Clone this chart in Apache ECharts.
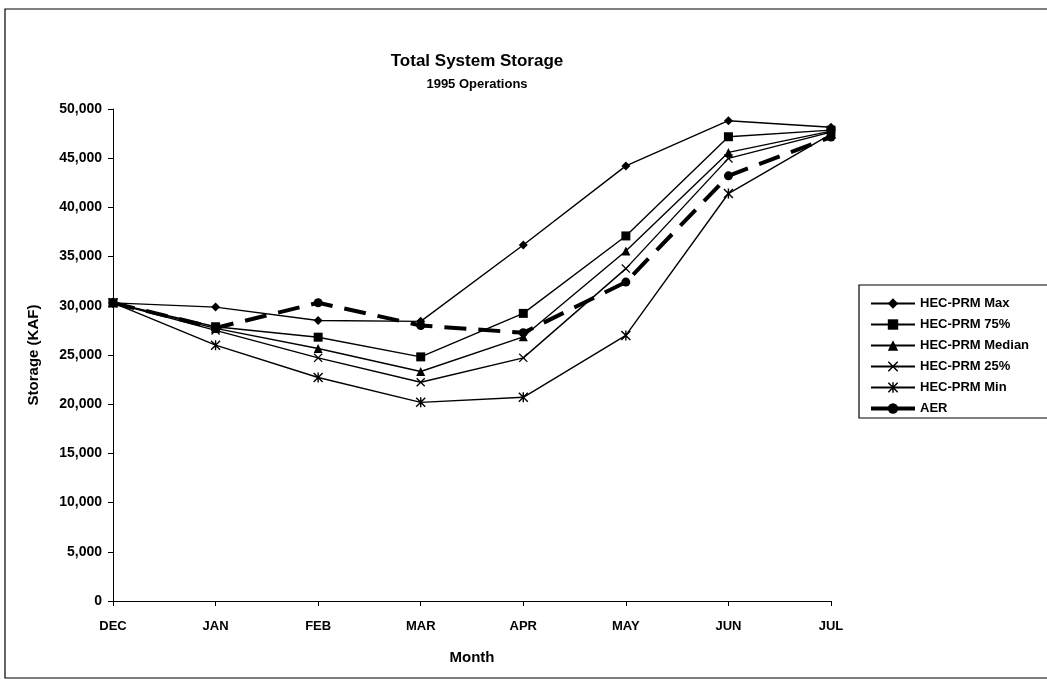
<!DOCTYPE html>
<html>
<head>
<meta charset="utf-8">
<script src="https://cdn.jsdelivr.net/npm/echarts@6/dist/echarts.min.js"></script>
<style>
html,body{margin:0;padding:0;background:#fff;}
#chart{width:1047px;height:679px;}
</style>
</head>
<body>
<div id="chart"></div>
<script>
const months = ['DEC','JAN','FEB','MAR','APR','MAY','JUN','JUL'];
const yTicks = [0,5000,10000,15000,20000,25000,30000,35000,40000,45000,50000];
const hecMax    = [30300, 29870, 28510, 28420, 36180, 44220, 48810, 48150];
const hec75     = [30300, 27870, 26810, 24810, 29230, 37100, 47180, 47850];
const hecMedian = [30300, 27700, 25660, 23320, 26850, 35570, 45590, 47750];
const hec25     = [30300, 27500, 24710, 22230, 24710, 33780, 44980, 47650];
const hecMin    = [30300, 26000, 22710, 20190, 20700, 26990, 41410, 47450];
const aer       = [30300, 27750, 30310, 28000, 27260, 32410, 43210, 47150];

const FONT = 'Liberation Sans, Arial, Helvetica, sans-serif';
const xPath = 'path://M0,1 L1,0 L5,4 L9,0 L10,1 L6,5 L10,9 L9,10 L5,6 L1,10 L0,9 L4,5 Z';
const starPath = 'path://M0,1 L1,0 L5,4 L9,0 L10,1 L6,5 L10,9 L9,10 L5,6 L1,10 L0,9 L4,5 Z M4.3,0 L5.7,0 L5.7,10 L4.3,10 Z';

function lineSeries(name, data, symbol, size) {
  return {
    name: name, type: 'line', data: data,
    symbol: symbol, symbolSize: size,
    lineStyle: {color: '#000', width: 1.4},
    itemStyle: {color: '#000'},
    emphasis: {disabled: true},
    animation: false
  };
}

const chart = echarts.init(document.getElementById('chart'));
chart.setOption({
  animation: false,
  backgroundColor: '#fff',
  title: [
    {text: 'Total System Storage', left: 472, top: 48, textAlign: 'center',
     textStyle: {fontFamily: FONT, fontSize: 17, fontWeight: 'bold', color: '#000'}},
    {text: '1995 Operations', left: 472, top: 73, textAlign: 'center',
     textStyle: {fontFamily: FONT, fontSize: 13, fontWeight: 'bold', color: '#000'}}
  ],
  graphic: [
    {type: 'rect', shape: {x: 5, y: 9, width: 1050, height: 669},
     style: {fill: 'none', stroke: '#000', lineWidth: 1.2}, silent: true},
    {type: 'rect', shape: {x: 859, y: 285, width: 200, height: 133},
     style: {fill: '#fff', stroke: '#000', lineWidth: 1.2}, silent: true, z: 10}
  ],
  legend: {
    orient: 'vertical', left: 864, top: 292, z: 20,
    itemWidth: 44, itemHeight: 13, itemGap: 8,
    textStyle: {fontFamily: FONT, fontSize: 13, fontWeight: 'bold', color: '#000'},
    data: [
      {name: 'HEC-PRM Max'},
      {name: 'HEC-PRM 75%'},
      {name: 'HEC-PRM Median'},
      {name: 'HEC-PRM 25%'},
      {name: 'HEC-PRM Min'},
      {name: 'AER', lineStyle: {type: 'solid', width: 4}}
    ]
  },
  grid: {left: 113, right: 216, top: 109, bottom: 78, containLabel: false},
  xAxis: {
    type: 'category', data: months, boundaryGap: false,
    name: 'Month', nameLocation: 'middle', nameGap: 49,
    nameTextStyle: {fontFamily: FONT, fontSize: 15, fontWeight: 'bold', color: '#000'},
    axisLine: {lineStyle: {color: '#000', width: 1}},
    axisTick: {show: true, alignWithLabel: true, length: 5, lineStyle: {color: '#000'}},
    axisLabel: {fontFamily: FONT, fontSize: 13, fontWeight: 'bold', color: '#000', margin: 19},
    splitLine: {show: false}
  },
  yAxis: {
    type: 'value', min: 0, max: 50000, interval: 5000,
    name: 'Storage (KAF)', nameLocation: 'middle', nameGap: 72, nameRotate: 90,
    nameTextStyle: {fontFamily: FONT, fontSize: 15, fontWeight: 'bold', color: '#000'},
    axisLine: {show: true, lineStyle: {color: '#000', width: 1}},
    axisTick: {show: true, length: 5, lineStyle: {color: '#000'}},
    axisLabel: {fontFamily: FONT, fontSize: 14, fontWeight: 'bold', color: '#000', margin: 11,
      formatter: v => yTicks.includes(v) ? v.toLocaleString('en-US') : ''},
    splitLine: {show: false}
  },
  series: [
    lineSeries('HEC-PRM Max', hecMax, 'diamond', 9),
    lineSeries('HEC-PRM 75%', hec75, 'rect', 9),
    lineSeries('HEC-PRM Median', hecMedian, 'triangle', 9),
    lineSeries('HEC-PRM 25%', hec25, xPath, 9),
    lineSeries('HEC-PRM Min', hecMin, starPath, 10),
    {
      name: 'AER', type: 'line', data: aer,
      symbol: 'circle', symbolSize: 9,
      lineStyle: {color: '#000', width: 4, type: [22, 12]},
      itemStyle: {color: '#000'},
      emphasis: {disabled: true},
      animation: false
    }
  ]
});
</script>
</body>
</html>
